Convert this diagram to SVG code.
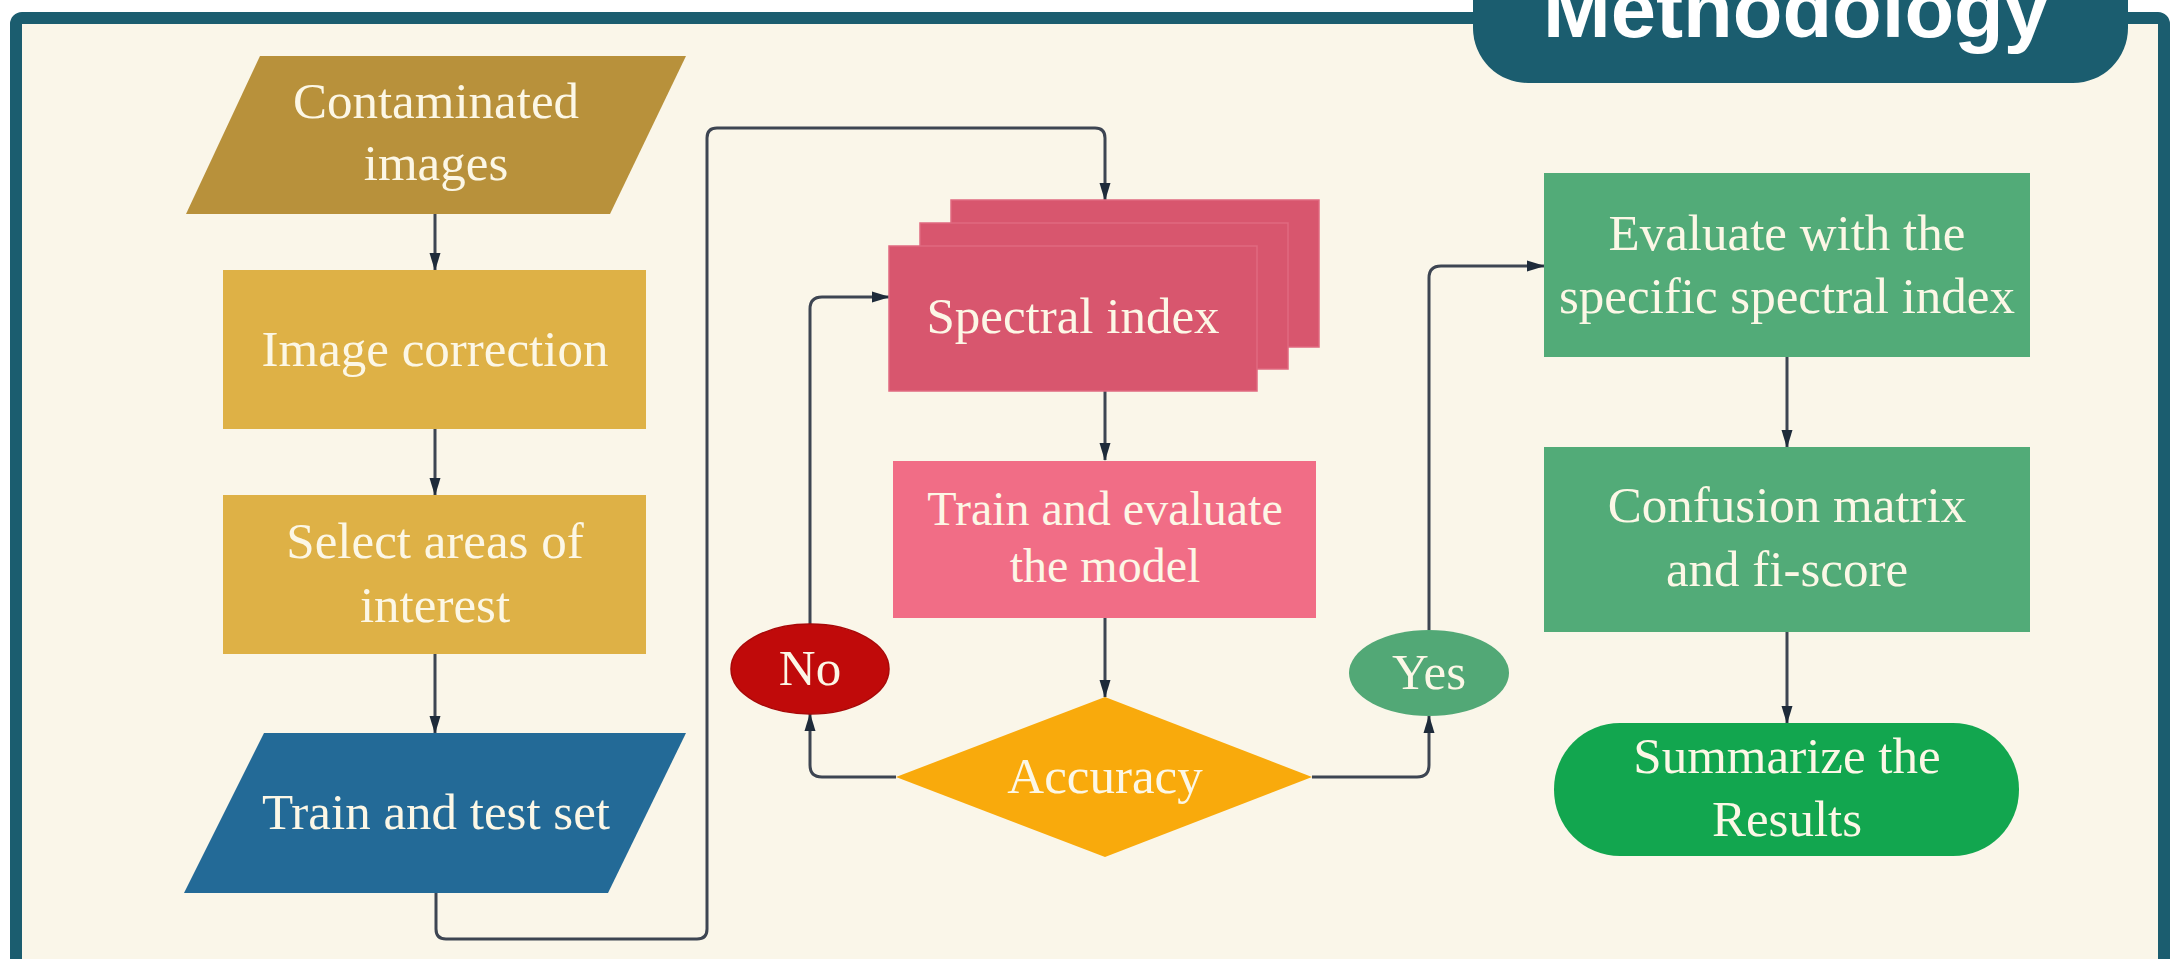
<svg xmlns="http://www.w3.org/2000/svg" width="2178" height="959" viewBox="0 0 2178 959">
  <defs>
    <style>
      .lbl { font-family: "Liberation Serif", "Times New Roman", serif; font-size: 51px; fill: #fcf7e6; text-anchor: middle; }
      .conn { fill: none; stroke: #3d4552; stroke-width: 3; stroke-linejoin: round; }
      .card { fill: #d8566e; stroke: #e06a80; stroke-width: 1.5; }
    </style>
    <marker id="arr" viewBox="0 0 18 12" refX="17" refY="6" markerWidth="18" markerHeight="12" markerUnits="userSpaceOnUse" orient="auto">
      <path d="M0,0.5 L18,6 L0,11.5 Z" fill="#1e2b3a"/>
    </marker>
  </defs>

  <!-- background -->
  <rect x="0" y="0" width="2178" height="959" fill="#ffffff"/>
  <g id="frame">
    <rect x="16" y="18" width="2148" height="1000" rx="6" fill="#faf6e9" stroke="#1b5d6f" stroke-width="12"/>
  </g>

  <!-- title -->
  <g id="title">
    <rect x="1473" y="-60" width="655" height="143" rx="55" fill="#1b5d6f"/>
    <text x="1796" y="37" font-family="'Liberation Sans', Arial, sans-serif" font-weight="bold" font-size="80" fill="#ffffff" text-anchor="middle" textLength="506" lengthAdjust="spacingAndGlyphs">Methodology</text>
  </g>

  <!-- connectors -->
  <g id="connectors">
    <path class="conn" d="M435,214 L435,270" marker-end="url(#arr)"/>
    <path class="conn" d="M435,429 L435,495" marker-end="url(#arr)"/>
    <path class="conn" d="M435,654 L435,733" marker-end="url(#arr)"/>
    <path class="conn" d="M436,893 L436,929 Q436,939 446,939 L697,939 Q707,939 707,929 L707,138 Q707,128 717,128 L1095,128 Q1105,128 1105,138 L1105,200" marker-end="url(#arr)"/>
    <path class="conn" d="M1105,391 L1105,460" marker-end="url(#arr)"/>
    <path class="conn" d="M1105,618 L1105,697" marker-end="url(#arr)"/>
    <path class="conn" d="M896,777 L822,777 Q810,777 810,765 L810,714" marker-end="url(#arr)"/>
    <path class="conn" d="M810,624 L810,309 Q810,297 822,297 L889,297" marker-end="url(#arr)"/>
    <path class="conn" d="M1312,777 L1417,777 Q1429,777 1429,765 L1429,716" marker-end="url(#arr)"/>
    <path class="conn" d="M1429,630 L1429,278 Q1429,266 1441,266 L1544,266" marker-end="url(#arr)"/>
    <path class="conn" d="M1787,357 L1787,447" marker-end="url(#arr)"/>
    <path class="conn" d="M1787,632 L1787,723" marker-end="url(#arr)"/>
  </g>

  <!-- left column -->
  <g id="contaminated">
    <polygon points="260,56 686,56 610,214 186,214" fill="#b8913b"/>
    <text class="lbl" x="436" y="118">Contaminated</text>
    <text class="lbl" x="436" y="180">images</text>
  </g>
  <g id="image-correction">
    <rect x="223" y="270" width="423" height="159" fill="#deb146"/>
    <text class="lbl" x="435" y="366">Image correction</text>
  </g>
  <g id="select-areas">
    <rect x="223" y="495" width="423" height="159" fill="#deb146"/>
    <text class="lbl" x="435" y="558">Select areas of</text>
    <text class="lbl" x="435" y="622">interest</text>
  </g>
  <g id="train-test-set">
    <polygon points="264,733 686,733 608,893 184,893" fill="#236a97"/>
    <text class="lbl" x="436" y="829">Train and test set</text>
  </g>

  <!-- middle column -->
  <g id="spectral-index">
    <rect class="card" x="951" y="200" width="368" height="147"/>
    <rect class="card" x="920" y="223" width="368" height="146"/>
    <rect class="card" x="889" y="246" width="368" height="145"/>
    <text class="lbl" x="1073" y="333">Spectral index</text>
  </g>
  <g id="train-evaluate">
    <rect x="893" y="461" width="423" height="157" fill="#f16d86"/>
    <text class="lbl" x="1105" y="525" style="font-size:48px">Train and evaluate</text>
    <text class="lbl" x="1105" y="582" style="font-size:48px">the model</text>
  </g>
  <g id="accuracy">
    <polygon points="1105,697 1312,777 1105,857 896,777" fill="#f9aa0c"/>
    <text class="lbl" x="1105" y="793">Accuracy</text>
  </g>
  <g id="no">
    <ellipse cx="810" cy="669" rx="79" ry="45" fill="#c00a0a" stroke="#a80808" stroke-width="1.5"/>
    <text class="lbl" x="810" y="685">No</text>
  </g>
  <g id="yes">
    <ellipse cx="1429" cy="673" rx="80" ry="43" fill="#52a876"/>
    <text class="lbl" x="1429" y="689">Yes</text>
  </g>

  <!-- right column -->
  <g id="evaluate">
    <rect x="1544" y="173" width="486" height="184" fill="#52ab78"/>
    <text class="lbl" x="1787" y="250">Evaluate with the</text>
    <text class="lbl" x="1787" y="313">specific spectral index</text>
  </g>
  <g id="confusion">
    <rect x="1544" y="447" width="486" height="185" fill="#52ab78"/>
    <text class="lbl" x="1787" y="522">Confusion matrix</text>
    <text class="lbl" x="1787" y="586">and fi-score</text>
  </g>
  <g id="summarize">
    <rect x="1554" y="723" width="465" height="133" rx="66" fill="#12a64f"/>
    <text class="lbl" x="1787" y="773">Summarize the</text>
    <text class="lbl" x="1787" y="836">Results</text>
  </g>
</svg>
